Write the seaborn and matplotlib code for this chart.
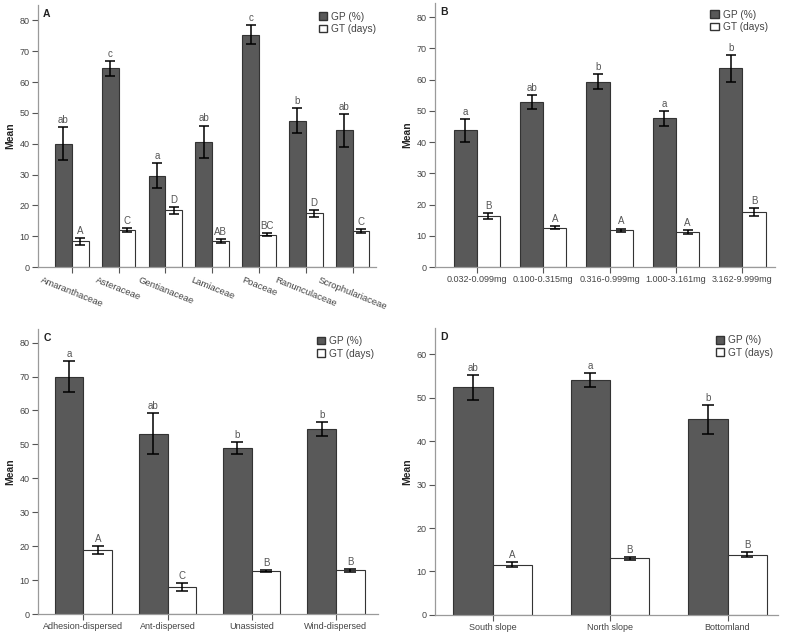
import pandas as pd
import matplotlib.pyplot as plt
from matplotlib.patches import Patch
import seaborn as sns

sns.set_theme(style='ticks')
plt.rcParams['font.family'] = ['Liberation Sans', 'DejaVu Sans']

# Panel A - family
a_cats = ['Amaranthaceae', 'Asteraceae', 'Gentianaceae', 'Lamiaceae', 'Poaceae',
          'Ranunculaceae', 'Scrophulariaceae']
a_gp = [40.0, 64.5, 29.6, 40.6, 75.4, 47.5, 44.3]
a_gp_err = [5.3, 2.45, 4.0, 5.3, 3.05, 4.15, 5.3]
a_gp_let = ['ab', 'c', 'a', 'ab', 'c', 'b', 'ab']
a_gt = [8.3, 12.0, 18.4, 8.4, 10.5, 17.4, 11.7]
a_gt_err = [1.05, 0.6, 1.1, 0.65, 0.6, 1.05, 0.65]
a_gt_let = ['A', 'C', 'D', 'AB', 'BC', 'D', 'C']

# Panel B - seed mass
b_cats = ['0.032-0.099mg', '0.100-0.315mg', '0.316-0.999mg', '1.000-3.161mg', '3.162-9.999mg']
b_gp = [43.7, 52.8, 59.3, 47.6, 63.6]
b_gp_err = [3.7, 2.3, 2.4, 2.45, 4.3]
b_gp_let = ['a', 'ab', 'b', 'a', 'b']
b_gt = [16.2, 12.6, 11.8, 11.2, 17.6]
b_gt_err = [0.95, 0.5, 0.5, 0.55, 1.3]
b_gt_let = ['B', 'A', 'A', 'A', 'B']

# Panel C - dispersal mode
c_cats = ['Adhesion-dispersed', 'Ant-dispersed', 'Unassisted', 'Wind-dispersed']
c_gp = [70.0, 53.1, 49.0, 54.6]
c_gp_err = [4.6, 6.0, 1.75, 2.1]
c_gp_let = ['a', 'ab', 'b', 'b']
c_gt = [18.9, 8.0, 12.6, 12.9]
c_gt_err = [1.15, 1.1, 0.3, 0.4]
c_gt_let = ['A', 'C', 'B', 'B']

# Panel D - habitat
d_cats = ['South slope', 'North slope', 'Bottomland']
d_gp = [52.4, 54.0, 45.0]
d_gp_err = [2.85, 1.55, 3.3]
d_gp_let = ['ab', 'a', 'b']
d_gt = [11.6, 13.0, 13.9]
d_gt_err = [0.6, 0.4, 0.65]
d_gt_let = ['A', 'B', 'B']

GP_COLOR = '#595959'
EDGE = '#333333'
TXT = '#444444'


def draw_panel(ax, tag, cats, gp, gp_err, gp_let, gt, gt_err, gt_let,
               width, xlim, ymax, yticks, cap, leg_x, rot=0):
    n = len(cats)
    df = pd.DataFrame({'cat': cats * 2, 'val': gp + gt,
                       'var': ['GP (%)'] * n + ['GT (days)'] * n})
    sns.barplot(data=df, x='cat', y='val', hue='var', order=cats,
                hue_order=['GP (%)', 'GT (days)'],
                palette={'GP (%)': GP_COLOR, 'GT (days)': 'white'},
                saturation=1, edgecolor=EDGE, linewidth=0.8, width=width,
                errorbar=None, legend=False, ax=ax)
    for cont, errs, lets in zip(ax.containers, [gp_err, gt_err], [gp_let, gt_let]):
        xs = [p.get_x() + p.get_width() / 2 for p in cont]
        tops = [p.get_height() for p in cont]
        ax.errorbar(xs, tops, yerr=errs, fmt='none', ecolor='black',
                    elinewidth=1.1, capsize=cap, capthick=1.1)
        for x, t, e, l in zip(xs, tops, errs, lets):
            ax.annotate(l, (x, t + e), xytext=(0, 1.5), textcoords='offset points',
                        ha='center', va='bottom', fontsize=7, color='#555555')

    ax.set_xlim(*xlim)
    ax.set_ylim(0, ymax)
    ax.set_yticks(yticks)
    ax.set_xlabel('')
    ax.set_ylabel('Mean', fontsize=7.5, fontweight='bold', labelpad=3)
    sns.despine(ax=ax)
    for s in ['left', 'bottom']:
        ax.spines[s].set_color('#9a9a9a')
        ax.spines[s].set_linewidth(0.9)
    ax.tick_params(axis='both', length=4, width=0.8, color='#555555',
                   labelsize=6.5, labelcolor=TXT, pad=2)
    if rot:
        ax.set_xticks(range(n))
        ax.set_xticklabels(cats, rotation=rot, ha='center', fontsize=6.8)

    ax.text(0.015, 0.985, tag, transform=ax.transAxes, fontsize=7.5,
            fontweight='bold', va='top', ha='left', color='#222222')
    handles = [Patch(facecolor=GP_COLOR, edgecolor=EDGE, label='GP (%)'),
               Patch(facecolor='white', edgecolor=EDGE, label='GT (days)')]
    leg = ax.legend(handles=handles, loc='upper left', bbox_to_anchor=(leg_x, 0.975),
                    frameon=False, fontsize=7.3, handlelength=0.8, handleheight=0.8,
                    handletextpad=0.4, labelspacing=0.25, borderaxespad=0, borderpad=0)
    for t in leg.get_texts():
        t.set_color(TXT)


fig = plt.figure(figsize=(7.89, 6.38), dpi=100)
ax_a = fig.add_axes([0.0482, 0.5815, 0.4284, 0.4107])
ax_b = fig.add_axes([0.5513, 0.5815, 0.4310, 0.4138])
ax_c = fig.add_axes([0.0482, 0.0376, 0.4309, 0.4467])
ax_d = fig.add_axes([0.5513, 0.0361, 0.4348, 0.4498])

draw_panel(ax_a, 'A', a_cats, a_gp, a_gp_err, a_gp_let, a_gt, a_gt_err, a_gt_let,
           0.72, (-0.72, 6.5), 85, range(0, 81, 10), 3.5, 0.83, rot=-22)
draw_panel(ax_b, 'B', b_cats, b_gp, b_gp_err, b_gp_let, b_gt, b_gt_err, b_gt_let,
           0.70, (-0.63, 4.49), 84.5, range(0, 81, 10), 3.5, 0.81)
draw_panel(ax_c, 'C', c_cats, c_gp, c_gp_err, c_gp_let, c_gt, c_gt_err, c_gt_let,
           0.68, (-0.54, 3.5), 84, range(0, 81, 10), 4, 0.82)
draw_panel(ax_d, 'D', d_cats, d_gp, d_gp_err, d_gp_let, d_gt, d_gt_err, d_gt_let,
           0.67, (-0.49, 2.43), 66, range(0, 61, 10), 4, 0.82)

fig.savefig('out.png', dpi=100)
